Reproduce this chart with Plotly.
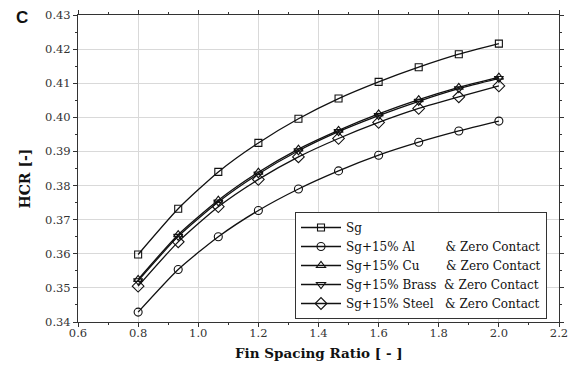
import plotly.graph_objects as go

x = [0.8, 0.9333, 1.0667, 1.2, 1.3333, 1.4667, 1.6, 1.7333, 1.8667, 2.0]
sg = [0.3598, 0.3732, 0.3840, 0.3925, 0.3996, 0.4055, 0.4104, 0.4147, 0.4185, 0.4216]
sg_al = [0.3429, 0.3554, 0.3650, 0.3727, 0.3790, 0.3843, 0.3889, 0.3927, 0.3960, 0.3989]
sg_cu = [0.3525, 0.3656, 0.3757, 0.3839, 0.3907, 0.3962, 0.4010, 0.4052, 0.4088, 0.4118]
sg_brass = [0.3521, 0.3651, 0.3752, 0.3834, 0.3902, 0.3958, 0.4005, 0.4047, 0.4084, 0.4114]
sg_steel = [0.3505, 0.3635, 0.3738, 0.3818, 0.3884, 0.3938, 0.3985, 0.4026, 0.4060, 0.4092]

NB = "&nbsp;"
names = [
    "Sg",
    "Sg+15% Al" + NB * 8 + "&amp; Zero Contact",
    "Sg+15% Cu" + NB * 7 + "&amp; Zero Contact",
    "Sg+15% Brass" + NB * 2 + "&amp; Zero Contact",
    "Sg+15% Steel" + NB * 3 + "&amp; Zero Contact",
]
series = [sg, sg_al, sg_cu, sg_brass, sg_steel]
symbols = ["square-open", "circle-open", "triangle-up-open", "triangle-down-open", "diamond-open"]
sizes = [7, 8, 8, 8, 9]

serif = "DejaVu Serif"
L, R, T, B = 78, 14, 15, 49
PW, PH = 573 - L - R, 371 - T - B


def px(xp):
    return (xp - L) / PW


def py(yp):
    return (371 - B - yp) / PH


fig = go.Figure()
for n, y, s, sz in zip(names, series, symbols, sizes):
    fig.add_trace(go.Scatter(
        x=x, y=y, name=n, mode="lines+markers",
        line=dict(color="#111111", width=1.3, shape="spline", smoothing=0.6),
        marker=dict(symbol=s, size=sz, color="#111111", line=dict(width=1.1, color="#111111")),
    ))

axis_common = dict(
    showline=True, linecolor="#333333", linewidth=1, mirror="ticks",
    ticks="outside", ticklen=4, tickcolor="#333333", tickwidth=1,
    showgrid=True, gridcolor="#d9d9d9", gridwidth=1, zeroline=False,
    automargin=False,
    tickfont=dict(family=serif, size=11.5, color="#333333"),
)
fig.update_xaxes(range=[0.6, 2.2], dtick=0.2, tickformat=".1f", ticklabelstandoff=-4,
                 minor=dict(ticks="outside", ticklen=2, dtick=0.1, tickcolor="#333333", showgrid=False),
                 **axis_common)
fig.update_yaxes(range=[0.34, 0.43], dtick=0.01, tickformat=".2f",
                 minor=dict(ticks="outside", ticklen=2, dtick=0.005, tickcolor="#333333", showgrid=False),
                 **axis_common)

fig.update_layout(
    width=573, height=371,
    margin=dict(l=L, r=R, t=T, b=B),
    plot_bgcolor="white", paper_bgcolor="white",
    font=dict(family=serif, color="#111111"),
    legend=dict(x=px(295), y=py(319), xanchor="left", yanchor="bottom",
                bgcolor="white", bordercolor="#333333", borderwidth=1,
                font=dict(family=serif, size=12, color="#111111"),
                itemwidth=40, tracegroupgap=0),
    annotations=[
        dict(text="<b>C</b>", x=px(22), y=py(17), xref="paper", yref="paper",
             xanchor="center", yanchor="middle", showarrow=False,
             font=dict(family="Liberation Sans", size=17, color="#111111")),
        dict(text="<b>Fin Spacing Ratio [ - ]</b>", x=px(318.5), y=py(353), xref="paper", yref="paper",
             xanchor="center", yanchor="middle", showarrow=False,
             font=dict(family=serif, size=13.5, color="#111111")),
        dict(text="<b>HCR [-]</b>", x=px(24), y=py(178.5), xref="paper", yref="paper",
             xanchor="center", yanchor="middle", showarrow=False, textangle=-90,
             font=dict(family=serif, size=14, color="#111111")),
    ],
)
fig.write_html("out.html", config={"displayModeBar": False},
               post_script="document.body.style.margin='0';document.body.style.padding='0';")
